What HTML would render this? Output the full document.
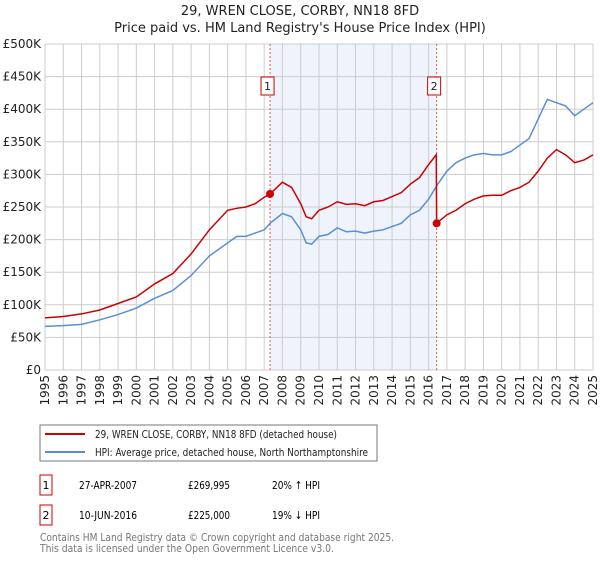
<!DOCTYPE html>
<html><head><meta charset="utf-8"><style>
body{margin:0;background:#fff;font-family:"Liberation Sans","DejaVu Sans",sans-serif;}
svg text{font-family:"DejaVu Sans","Liberation Sans",sans-serif;}
</style></head><body>
<svg id="chart" width="600" height="560" viewBox="0 0 600 560" xmlns="http://www.w3.org/2000/svg">
<text x="300" y="15" text-anchor="middle" font-size="13" fill="#222">29, WREN CLOSE, CORBY, NN18 8FD</text>
<text x="300" y="32" text-anchor="middle" font-size="13" fill="#222">Price paid vs. HM Land Registry's House Price Index (HPI)</text>
<g id="grid"></g><g id="series"></g><g id="axes"></g>
<rect x="40" y="425" width="337" height="36" fill="#fff" stroke="#777"/>
<line x1="45" y1="434" x2="85" y2="434" stroke="#cc0000" stroke-width="2"/>
<text x="95" y="438" font-size="11" fill="#222" textLength="242" lengthAdjust="spacingAndGlyphs">29, WREN CLOSE, CORBY, NN18 8FD (detached house)</text>
<line x1="45" y1="452" x2="85" y2="452" stroke="#5b8fd4" stroke-width="2"/>
<text x="95" y="456" font-size="11" fill="#222" textLength="273" lengthAdjust="spacingAndGlyphs">HPI: Average price, detached house, North Northamptonshire</text>
<rect x="40" y="475" width="12" height="20" fill="#fff" stroke="#cc0000"/>
<text x="46" y="489" font-size="11" text-anchor="middle">1</text>
<text x="79" y="489" font-size="11" textLength="58" lengthAdjust="spacingAndGlyphs">27-APR-2007</text>
<text x="188" y="489" font-size="11" textLength="42" lengthAdjust="spacingAndGlyphs">£269,995</text>
<text x="272" y="489" font-size="11" textLength="48" lengthAdjust="spacingAndGlyphs">20% ↑ HPI</text>
<rect x="40" y="505" width="12" height="20" fill="#fff" stroke="#cc0000"/>
<text x="46" y="519" font-size="11" text-anchor="middle">2</text>
<text x="79" y="519" font-size="11" textLength="58" lengthAdjust="spacingAndGlyphs">10-JUN-2016</text>
<text x="188" y="519" font-size="11" textLength="42" lengthAdjust="spacingAndGlyphs">£225,000</text>
<text x="272" y="519" font-size="11" textLength="48" lengthAdjust="spacingAndGlyphs">19% ↓ HPI</text>
<text x="40" y="541" font-size="11" fill="#777" textLength="354" lengthAdjust="spacingAndGlyphs">Contains HM Land Registry data © Crown copyright and database right 2025.</text>
<text x="40" y="552" font-size="11" fill="#777" textLength="294" lengthAdjust="spacingAndGlyphs">This data is licensed under the Open Government Licence v3.0.</text>
</svg>
<script>
const hpiYears=[1995,1996,1997,1998,1999,2000,2001,2002,2003,2004,2005,2005.5,2006,2006.5,2007,2007.32,2008,2008.5,2009,2009.3,2009.6,2010,2010.5,2011,2011.5,2012,2012.5,2013,2013.5,2014,2014.5,2015,2015.5,2016,2016.5,2017,2017.5,2018,2018.5,2019,2019.5,2020,2020.5,2021,2021.5,2022,2022.5,2023,2023.5,2024,2024.5,2025];
const hpiValues=[67,68,70,77,85,95,110,122,145,175,195,205,205,210,215,225,240,235,215,195,193,205,208,218,212,213,210,213,215,220,225,238,245,262,285,305,318,325,330,332,330,330,335,345,355,385,415,410,405,390,400,410];
const propYears=[1995,1996,1997,1998,1999,2000,2001,2002,2003,2004,2005,2005.5,2006,2006.5,2007,2007.32,2008,2008.5,2009,2009.3,2009.6,2010,2010.5,2011,2011.5,2012,2012.5,2013,2013.5,2014,2014.5,2015,2015.5,2016,2016.42,2016.44,2017,2017.5,2018,2018.5,2019,2019.5,2020,2020.5,2021,2021.5,2022,2022.5,2023,2023.5,2024,2024.5,2025];
const propValues=[80,82,86,92,102,112,132,148,178,215,245,248,250,255,265,270,288,280,255,235,232,245,250,258,254,255,252,258,260,266,272,285,295,315,330,225,238,245,255,262,267,268,268,275,280,288,305,325,338,330,318,322,330];
const saleYears=[2007.32,2016.44];
const saleValues=[269.995,225];
const yTicks=[0,50,100,150,200,250,300,350,400,450,500];
const xTicks=[1995,1996,1997,1998,1999,2000,2001,2002,2003,2004,2005,2006,2007,2008,2009,2010,2011,2012,2013,2014,2015,2016,2017,2018,2019,2020,2021,2022,2023,2024,2025];
const X0=45,X1=593,Y0=370,Y1=44;
const x=v=>X0+(v-1995)/30*(X1-X0);
const y=v=>Y0-v/500*(Y0-Y1);
const NS="http://www.w3.org/2000/svg";
function mk(parent,tag,attrs){const e=document.createElementNS(NS,tag);for(const k in attrs)e.setAttribute(k,attrs[k]);parent.appendChild(e);return e;}
const grid=document.getElementById('grid'),ser=document.getElementById('series'),axes=document.getElementById('axes');
const shade=mk(grid,'rect',{x:x(saleYears[0]),y:Y1,width:x(saleYears[1])-x(saleYears[0]),height:Y0-Y1,fill:'#eef3fc'});


yTicks.forEach(t=>{
 const l=mk(grid,'line',{x1:X0,x2:X1,y1:y(t),y2:y(t),stroke:'#ccc'});
 
 
 const tx=mk(axes,'text',{x:X0-4,y:y(t)+4,'text-anchor':'end','font-size':'12',fill:'#222'});
 tx.textContent='£'+(t?t+'K':'0');
 
 
});
xTicks.forEach(t=>{
 const l=mk(grid,'line',{x1:x(t),x2:x(t),y1:Y1,y2:Y0,stroke:'#ccc'});
 
 
 const tx=mk(axes,'text',{x:0,y:0,'text-anchor':'end','font-size':'12',fill:'#222',transform:`translate(${x(t)+4},${Y0+5}) rotate(-90)`});
 tx.textContent=t;
 
 
});
saleYears.forEach((s,i)=>{
 const l=mk(ser,'line',{x1:x(s),x2:x(s),y1:Y1,y2:Y0,stroke:'#e55','stroke-dasharray':'2,2'});
 
 
 const b=mk(ser,'rect',{x:x(s)-9,y:77,width:13,height:18,fill:'#fff',stroke:'#cc0000'});
 
 
 const t=mk(ser,'text',{x:x(s)-2.5,y:90,'text-anchor':'middle','font-size':'11',fill:'#222'});
 t.textContent=String(i+1);
 
 
});
const hp=mk(ser,'polyline',{points:hpiYears.map((v,i)=>x(v)+','+y(hpiValues[i])).join(' '),fill:'none',stroke:'#5b8fd4','stroke-width':1.5});


const pp=mk(ser,'polyline',{points:propYears.map((v,i)=>x(v)+','+y(propValues[i])).join(' '),fill:'none',stroke:'#cc0000','stroke-width':1.5});


saleYears.forEach((s,i)=>{
 const c=mk(ser,'circle',{cx:x(s),cy:y(saleValues[i]),r:4,fill:'#cc0000'});
 
 
});
</script>
</body></html>
